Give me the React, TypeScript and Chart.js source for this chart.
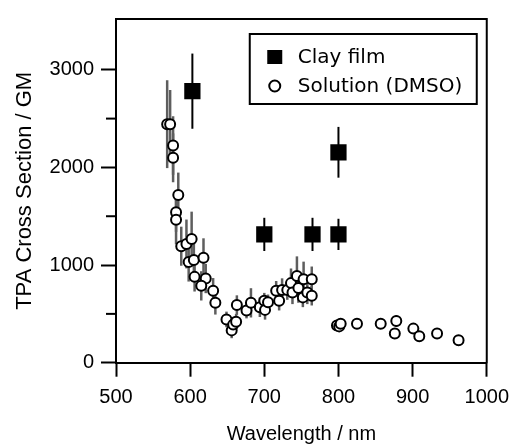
import React, { useEffect, useRef } from 'react';
import { Chart, registerables } from 'chart.js';

Chart.register(...registerables);

// Clay film (filled squares)
const clayX = [603, 700, 765, 800, 800];
const clayY = [2781, 1314, 1314, 2155, 1314];
const clayErr = [385, 170, 170, 260, 160];

// Solution (DMSO) (open circles)
const solX = [569, 573, 577, 577, 584, 581, 581, 588, 595, 602, 598, 605, 618, 606, 621, 615, 631, 634, 649, 656, 658, 662, 663, 676, 682, 694, 700, 701, 705, 716, 720, 724, 731, 736, 738, 744, 746, 752, 753, 758, 764, 764, 798, 801, 803, 825, 857, 876, 878, 901, 909, 933, 962];
const solY = [2443, 2443, 2224, 2098, 1717, 1540, 1463, 1193, 1216, 1267, 1031, 1051, 1074, 879, 862, 787, 737, 613, 443, 331, 390, 420, 590, 534, 613, 568, 635, 541, 618, 737, 635, 744, 744, 815, 720, 889, 764, 669, 855, 720, 855, 686, 382, 372, 399, 399, 399, 298, 426, 349, 271, 298, 230];
const solErr = [450, 350, 300, 250, 230, 200, 250, 200, 250, 280, 200, 200, 200, 150, 150, 150, 130, 120, 80, 80, 80, 80, 100, 80, 150, 100, 80, 100, 80, 100, 100, 120, 100, 150, 120, 200, 150, 100, 180, 120, 130, 100, 50, 40, 50, 40, 40, 40, 60, 40, 30, 30, 20];

const xTicks = [500, 600, 700, 800, 900, 1000];
const yMajorTicks = [0, 1000, 2000, 3000];
const yMinorTicks = [500, 1500, 2500];

const X_MIN = 500;
const X_MAX = 1000;
const Y_MIN = 0;
const Y_MAX = 3520;

const errorBarPlugin = {
  id: 'errorBars',
  beforeDatasetsDraw(chart: any) {
    const ctx = chart.ctx;
    const xs = chart.scales.x;
    const ys = chart.scales.y;
    ctx.save();
    chart.data.datasets.forEach((ds: any) => {
      if (!ds.errors) return;
      ctx.strokeStyle = ds.errorColor;
      ctx.lineWidth = ds.errorWidth;
      ds.data.forEach((p: any, j: number) => {
        const e = ds.errors[j];
        const x = xs.getPixelForValue(p.x);
        ctx.beginPath();
        ctx.moveTo(x, ys.getPixelForValue(p.y + e));
        ctx.lineTo(x, ys.getPixelForValue(p.y - e));
        ctx.stroke();
      });
    });
    ctx.restore();
  },
};

const framePlugin = {
  id: 'frameAndLegend',
  afterDraw(chart: any) {
    const ctx = chart.ctx;
    const a = chart.chartArea;
    const ys = chart.scales.y;
    ctx.save();
    // top and right frame
    ctx.strokeStyle = '#000';
    ctx.lineWidth = 2;
    ctx.beginPath();
    ctx.moveTo(a.left - 1, a.top);
    ctx.lineTo(a.right, a.top);
    ctx.lineTo(a.right, a.bottom + 1);
    ctx.stroke();
    // minor y ticks
    yMinorTicks.forEach((v) => {
      const y = ys.getPixelForValue(v);
      ctx.beginPath();
      ctx.moveTo(a.left - 10, y);
      ctx.lineTo(a.left, y);
      ctx.stroke();
    });
    // legend
    const bw = 227;
    const bh = 70;
    const bx = a.right - 10 - bw;
    const by = a.top + 15;
    ctx.fillStyle = '#fff';
    ctx.fillRect(bx, by, bw, bh);
    ctx.strokeRect(bx, by, bw, bh);
    ctx.font = '20px "DejaVu Sans"';
    ctx.textBaseline = 'middle';
    ctx.textAlign = 'left';
    const rows = [
      { label: chart.data.datasets[0].label, style: 'rect' },
      { label: chart.data.datasets[1].label, style: 'circle' },
    ];
    rows.forEach((r, k) => {
      const cy = by + 23 + k * 29;
      const cx = bx + 25;
      if (r.style === 'rect') {
        ctx.fillStyle = '#000';
        ctx.fillRect(cx - 7.5, cy - 7, 15, 14);
      } else {
        ctx.fillStyle = '#fff';
        ctx.beginPath();
        ctx.arc(cx, cy, 5.5, 0, Math.PI * 2);
        ctx.fill();
        ctx.stroke();
      }
      ctx.fillStyle = '#000';
      ctx.fillText(r.label, bx + 48, cy + 1);
    });
    ctx.restore();
  },
};

export default function App() {
  const canvasRef = useRef<HTMLCanvasElement | null>(null);

  useEffect(() => {
    if (!canvasRef.current) return;
    const chart = new Chart(canvasRef.current, {
      type: 'scatter',
      data: {
        datasets: [
          {
            label: 'Clay film',
            data: clayX.map((x, i) => ({ x, y: clayY[i] })),
            pointStyle: 'rect',
            pointRadius: 11.5,
            pointHoverRadius: 11.5,
            backgroundColor: '#000',
            borderColor: '#000',
            borderWidth: 0,
            errors: clayErr,
            errorColor: '#000',
            errorWidth: 2,
          } as any,
          {
            label: 'Solution (DMSO)',
            data: solX.map((x, i) => ({ x, y: solY[i] })),
            pointStyle: 'circle',
            pointRadius: 5,
            pointHoverRadius: 5,
            backgroundColor: '#fff',
            borderColor: '#000',
            borderWidth: 2,
            errors: solErr,
            errorColor: '#5e5e5e',
            errorWidth: 2.5,
          } as any,
        ],
      },
      options: {
        animation: false,
        responsive: false,
        events: [],
        layout: { padding: { left: 12, right: 25.7, top: 15.7, bottom: 0 } },
        font: { family: '"Liberation Sans", Arial, sans-serif' } as any,
        plugins: { legend: { display: false }, tooltip: { enabled: false } },
        scales: {
          x: {
            type: 'linear',
            min: X_MIN,
            max: X_MAX,
            afterBuildTicks: (s: any) => {
              s.ticks = xTicks.map((v) => ({ value: v }));
            },
            afterFit: (s: any) => {
              s.height = 446 - 362.7;
            },
            border: { display: true, color: '#000', width: 2 },
            grid: { drawOnChartArea: false, drawTicks: true, tickLength: 14, tickWidth: 2, tickColor: '#000' },
            ticks: {
              color: '#000',
              padding: 9,
              maxRotation: 0,
              font: { family: '"Liberation Sans", Arial, sans-serif', size: 20 },
              callback: (v: any) => String(v),
            },
            title: {
              display: true,
              text: 'Wavelength / nm',
              color: '#000',
              padding: { top: 0, bottom: 0 },
              font: { family: '"Liberation Sans", Arial, sans-serif', size: 20 },
            },
          },
          y: {
            type: 'linear',
            min: Y_MIN,
            max: Y_MAX,
            afterBuildTicks: (s: any) => {
              s.ticks = yMajorTicks.map((v) => ({ value: v }));
            },
            afterFit: (s: any) => {
              s.width = 116 - 12;
            },
            border: { display: true, color: '#000', width: 2 },
            grid: { drawOnChartArea: false, drawTicks: true, tickLength: 15, tickWidth: 2, tickColor: '#000' },
            ticks: {
              color: '#000',
              padding: 7,
              font: { family: '"Liberation Sans", Arial, sans-serif', size: 20 },
              callback: (v: any) => String(v),
            },
            title: {
              display: true,
              text: 'TPA Cross Section / GM',
              color: '#000',
              padding: { top: 0, bottom: 0 },
              font: { family: '"Liberation Sans", Arial, sans-serif', size: 22 },
            },
          },
        },
      },
      plugins: [errorBarPlugin, framePlugin],
    } as any);
    return () => chart.destroy();
  }, []);

  return (
    <div style={{ position: 'fixed', left: 0, top: 0, width: 518, height: 446, background: '#fff' }}>
      <canvas ref={canvasRef} width={518} height={446} />
    </div>
  );
}
